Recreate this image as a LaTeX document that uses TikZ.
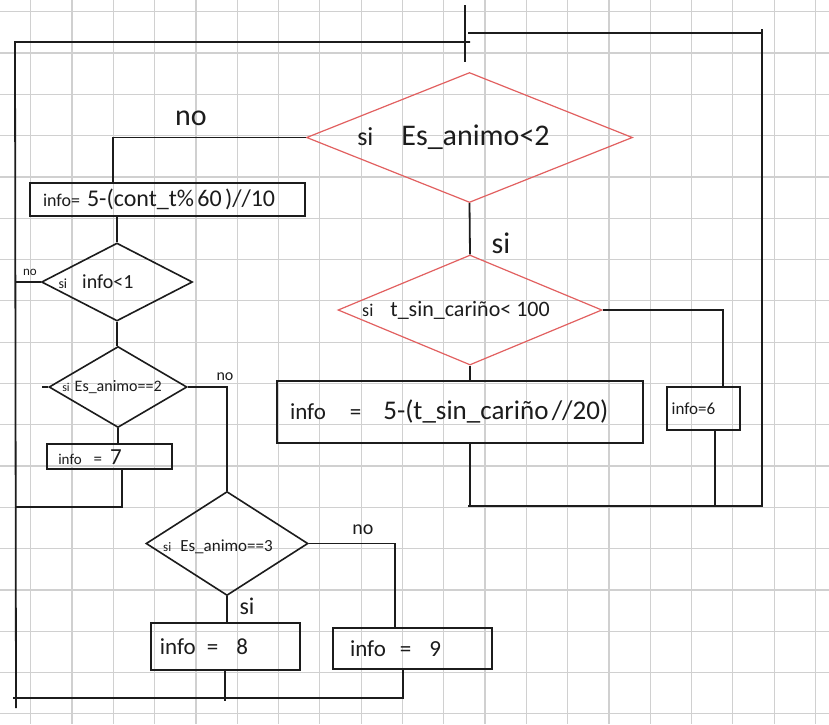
\documentclass[tikz,border=0pt]{standalone}
\usepackage{fontspec}
\setmainfont{Carlito}
\usetikzlibrary{shapes.geometric}
\definecolor{ink}{RGB}{28,28,28}
\definecolor{redline}{RGB}{226,96,96}
\definecolor{gridgray}{RGB}{208,208,208}
\newcommand\fsz[1]{\fontsize{#1}{#1}\selectfont}

\begin{document}
\begin{tikzpicture}[x=1pt,y=-1pt,
  wire/.style={draw=ink, line width=1.8pt},
  box/.style={rectangle, draw=ink, line width=1.8pt, align=left, inner ysep=0pt, text=ink},
  cond/.style={diamond, draw=ink, line width=1.6pt, inner sep=0pt},
  redcond/.style={diamond, draw=redline, line width=1.2pt, inner sep=0pt},
  tag/.style={text=ink, inner sep=0pt}]

\useasboundingbox (0,0) rectangle (829,724);
\fill[white] (0,0) rectangle (829,724);

% squared paper
\foreach \k in {0,...,19}
  \draw[gridgray, line width=1.2pt] ({30.7+41.3*\k},0) -- ({30.7+41.3*\k},724);
\foreach \k in {0,...,17}
  \draw[gridgray, line width=1.2pt] (0,{11.7+41.3*\k}) -- (829,{11.7+41.3*\k});

% decisions
\node[redcond, minimum width=326pt, minimum height=130pt,
      label={[tag, xshift=-16pt]center:{\fsz{26}si}\hspace{28pt}{\fsz{30}Es\_animo<2}}]
      (D1) at (469.5,137.5) {};
\node[redcond, minimum width=264pt, minimum height=110pt,
      label={[tag, xshift=-14pt]center:{\fsz{18}si}\hspace{17pt}{\fsz{22}t\_sin\_cariño< 100}}]
      (D2) at (470,310) {};
\node[cond, minimum width=151pt, minimum height=78pt,
      label={[tag, xshift=-21pt]center:{\fsz{14}si}\hspace{15pt}{\fsz{20}info<1}}]
      (D3) at (117,282) {};
\node[cond, minimum width=138pt, minimum height=81pt,
      label={[tag, xshift=-6pt]center:{\fsz{12}si}\hspace{5pt}{\fsz{16}Es\_animo==2}}]
      (D4) at (118,387) {};
\node[cond, minimum width=162pt, minimum height=104pt,
      label={[tag, xshift=-9pt, yshift=-3pt]center:{\fsz{13}si}\hspace{9pt}{\fsz{17}Es\_animo==3}}]
      (D5) at (227,543.5) {};

% assignments
\node[box, text width=249pt, inner xsep=13pt, minimum height=32.7pt]
      (B1) at (167.5,199.7) {{\fsz{18}info=}\hspace{7pt}{\fsz{24}5-(cont\_t\% 60 )//10}};
\node[box, text width=102.4pt, inner xsep=11pt, minimum height=25pt]
      (B7) at (109.5,456.8) {{\fsz{15}info}\hspace{12pt}{\fsz{17}=}\hspace{8pt}{\fsz{23}7}};
\node[box, text width=130.7pt, inner xsep=9.3pt, minimum height=46.7pt]
      (B8) at (225.3,646.7) {\raisebox{-2pt}{{\fsz{23}info}\hspace{11pt}{\fsz{23}=}\hspace{18pt}{\fsz{23}8}}};
\node[box, text width=125pt, inner xsep=16.7pt, minimum height=41.3pt]
      (B9) at (412.5,648.3) {\raisebox{-4pt}{{\fsz{23}info}\hspace{14pt}{\fsz{23}=}\hspace{18pt}{\fsz{23}9}}};
\node[box, text width=339.4pt, inner xsep=13.3pt, minimum height=61.7pt]
      (BS) at (459.7,411.8) {\raisebox{-6pt}{{\fsz{23}info}\hspace{24pt}{\fsz{23}=}\hspace{22pt}{\fsz{27}5-(t\_sin\_cariño //20)}}};
\node[box, text width=63.3pt, inner xsep=5pt, minimum height=43.3pt]
      (B6) at (703.3,408.3) {\fsz{17}info=6};

% loose ends of the loops
\coordinate (entry) at (465,5);
\coordinate (entryEnd) at (465,62);
\coordinate (Ltop) at (15,42);
\coordinate (Lbot) at (16,708);
\coordinate (Tjoin) at (470,42);
\coordinate (L7) at (16,507);
\coordinate (Bot) at (13,698);
\coordinate (TR0) at (468,33);
\coordinate (TR1) at (762,29);
\coordinate (BR) at (762,506);
\coordinate (BL) at (468,506);

% outer loop lines
\draw[wire] (entry) -- (entryEnd);
\draw[wire] (Lbot) -- (Ltop) -- (Tjoin);
\draw[wire] (TR0) -- (TR0 -| TR1);
\draw[wire] (TR1) -- (BR) -- (BL);
\draw[wire] ([xshift=-9.5pt]B9.south) |- (Bot);
\draw[wire] (B8.south) -- ++(0,30);

% left column
\draw[wire] (D1.west) -| ([xshift=-54.5pt]B1.north);
\node[tag] (noA) at (191,118) {\fsz{30}no};
\draw[wire] (D3.north |- B1.south) -- (D3.north);
\draw[wire] (D3.west) -- (D3.west -| Ltop);
\node[tag] (noB) at (30,272) {\fsz{13}no};
\draw[wire] (D3.south) -- (D3.south |- D4.north);
\draw[wire] (D4.west) -- ++(-6,0);
\draw[wire] (D4.south) -- (D4.south |- B7.north);
\draw[wire] ([xshift=12.5pt]B7.south) |- (L7);
\draw[wire] (D4.east) -| (D5.north);
\node[tag] (noC) at (225,377) {\fsz{16}no};
\draw[wire] (D5.south) -- (D5.south |- B8.north);
\node[tag] (siC) at (247,606) {\fsz{24}si};
\draw[wire] (D5.east) -| ([xshift=-17.5pt]B9.north);
\node[tag] (noD) at (363,530) {\fsz{20}no};

% right column
\draw[wire] (D1.south) -- (D2.north);
\node[tag] (siA) at (501,243) {\fsz{30}si};
\draw[wire] (D2.south) -- (D2.south |- BS.north);
\draw[wire] (D2.east) -| ([xshift=20pt]B6.north);
\draw[wire] (D2.south |- BS.south) -- (D2.south |- BL);
\draw[wire] ([xshift=12pt]B6.south) -- ([xshift=12pt]B6.south |- BL);
\end{tikzpicture}
\end{document}
